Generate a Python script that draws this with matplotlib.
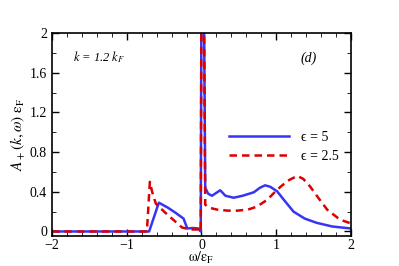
import matplotlib
matplotlib.use('Agg')
import matplotlib.pyplot as plt
import matplotlib.ticker as ticker

plt.rcParams['font.family'] = ['Liberation Serif', 'DejaVu Serif']
plt.rcParams['mathtext.fontset'] = 'stix'

# epsilon = 5 (solid blue)
w_e5 = [-2.0, -0.70, -0.57, -0.45, -0.35, -0.24, -0.19, -0.12, -0.04, -0.01,
        0.0, 0.03, 0.05, 0.09, 0.14, 0.20, 0.25, 0.32, 0.43, 0.55, 0.70, 0.78,
        0.85, 0.92, 1.01, 1.10, 1.23, 1.38, 1.54, 1.75, 2.0]
a_e5 = [0.0, 0.0, 0.29, 0.24, 0.19, 0.13, 0.03, 0.035, 0.03, 0.0,
        2.6, 2.6, 0.44, 0.38, 0.36, 0.39, 0.415, 0.36, 0.34, 0.36, 0.395, 0.44,
        0.465, 0.45, 0.405, 0.32, 0.20, 0.13, 0.087, 0.05, 0.03]

# epsilon = 2.5 (dashed red)
w_e25 = [-2.0, -0.73, -0.69, -0.66, -0.61, -0.50, -0.41, -0.26, -0.15, -0.03, -0.01,
         0.0, 0.03, 0.05, 0.10, 0.21, 0.35, 0.48, 0.62, 0.74, 0.88, 1.01, 1.15,
         1.28, 1.36, 1.45, 1.57, 1.68, 1.85, 2.0]
a_e25 = [0.0, 0.0, 0.50, 0.40, 0.28, 0.20, 0.14, 0.04, 0.02, 0.02, 0.0,
         2.6, 2.6, 0.27, 0.24, 0.22, 0.21, 0.21, 0.22, 0.25, 0.32, 0.42, 0.51,
         0.56, 0.53, 0.455, 0.33, 0.22, 0.12, 0.08]

fig = plt.figure(figsize=(3.99, 2.66), dpi=100)
ax = fig.add_axes([0.130, 0.113, 0.750, 0.763])

ax.plot(w_e5, a_e5, '-', color='#3535f5', linewidth=1.8, label='\u03f5 = 5')
ax.plot(w_e25, a_e25, '--', color='#dd0000', linewidth=1.8, dashes=(3, 2),
        label='\u03f5 = 2.5')

ax.set_xlim(-2, 2)
ax.set_ylim(-0.045, 2)

ax.xaxis.set_major_locator(ticker.MultipleLocator(1))
ax.xaxis.set_minor_locator(ticker.MultipleLocator(0.2))
ax.yaxis.set_major_locator(ticker.FixedLocator([0, 0.4, 0.8, 1.2, 1.6, 2.0]))
ax.yaxis.set_minor_locator(ticker.MultipleLocator(0.2))
ax.yaxis.set_major_formatter(ticker.FuncFormatter(lambda v, p: f"{v:g}"))
ax.tick_params(which='both', direction='in', top=True, right=True, labelsize=10)
ax.tick_params(axis='x', pad=2)
ax.tick_params(which='major', length=5, width=1)
ax.tick_params(which='minor', length=3, width=0.6)
for s in ax.spines.values():
    s.set_linewidth(1.2)

ax.set_xlabel(r'$\mathrm{\omega / \varepsilon_F}$', fontsize=10, labelpad=-1)
ax.set_ylabel(r'$A_+(k,\omega)\ \mathrm{\varepsilon_F}$', fontsize=11, labelpad=2)

ax.text(0.07, 0.86, r'$k$ = 1.2 $k_F$', transform=ax.transAxes, fontsize=9,
        style='italic')
ax.text(0.83, 0.86, '(d)', transform=ax.transAxes, fontsize=10, style='italic')

ax.legend(loc='upper left', bbox_to_anchor=(0.55, 0.58), frameon=False,
          fontsize=10, handlelength=4.3, handletextpad=0.9, labelspacing=0.45)

fig.savefig('out.png', dpi=100)
